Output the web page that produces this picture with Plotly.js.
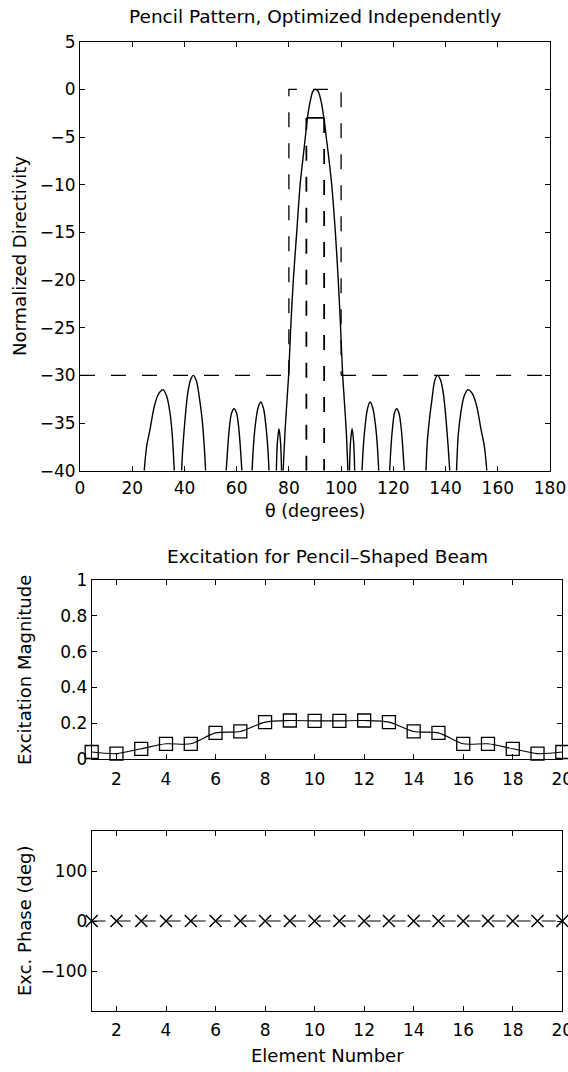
<!DOCTYPE html>
<html>
<head>
<meta charset="utf-8">
<script src="https://cdn.plot.ly/plotly-3.0.1.min.js"></script>
<style>html,body{margin:0;padding:0;background:#fff;}#chart{width:568px;height:1072px;}</style>
</head>
<body>
<div id="chart"></div>
<script>
// ---- Top plot: normalized directivity pattern (dB) ----
const patternTheta = [
 24.6,25.5,26.8,28.5,30.2,31.8,33.2,34.5,35.4,36.1, null,
 38.9,39.4,40.2,41.2,42.3,43.4,44.6,45.8,46.8,47.6,48.1, null,
 56.0,56.6,57.2,58.0,59.0,60.0,60.8,61.4,62.0, null,
 65.9,66.4,67.1,68.1,69.2,70.3,71.2,71.9,72.4, null,
 75.2,75.6,76.2,76.8,77.2, null,
 77.8,78.5,79.3,79.9,80.7,81.7,83.0,84.3,85.5,86.3,87.1,88.2,89.2,90.2,91.2,92.3,93.4,94.3,95.2,96.4,97.8,98.9,99.8,100.6,101.2,102.0,102.6, null,
 103.2,103.6,104.2,104.8,105.2, null,
 108.0,108.5,109.2,110.1,111.1,112.2,113.2,113.9,114.4, null,
 118.6,119.1,119.7,120.4,121.3,122.2,123.0,123.6,124.2, null,
 132.5,133.0,133.8,134.8,135.8,136.9,138.1,139.2,140.2,141.0,141.6, null,
 144.2,144.8,145.8,147.1,148.6,150.2,151.9,153.6,154.9,155.8
];
const patternDb = [
 -40,-37.5,-35.7,-33.2,-31.9,-31.5,-32.2,-34,-36.5,-40, null,
 -40,-37.5,-34.7,-32,-30.5,-30,-30.6,-32.5,-34.7,-37.5,-40, null,
 -40,-37.5,-35.5,-34,-33.5,-34,-35.5,-37.5,-40, null,
 -40,-37.5,-35.3,-33.5,-32.8,-33.5,-35.3,-37.5,-40, null,
 -40,-37,-35.6,-37,-40, null,
 -40,-36,-32.5,-30,-25,-20,-15,-10,-7,-5,-3,-1.2,-0.2,0,-0.2,-1.2,-3,-5,-7,-10,-15,-20,-25,-30,-32.5,-36,-40, null,
 -40,-37,-35.6,-37,-40, null,
 -40,-37.5,-35.3,-33.5,-32.8,-33.5,-35.3,-37.5,-40, null,
 -40,-37.5,-35.5,-34,-33.5,-34,-35.5,-37.5,-40, null,
 -40,-37,-34.7,-32.5,-30.6,-30,-30.5,-32,-34.7,-37.5,-40, null,
 -40,-36.5,-34,-32.2,-31.5,-31.9,-33.2,-35.7,-37.5,-40
];
// Mask lines
const sideMaskX = [0, 80, null, 100, 180];
const sideMaskY = [-30, -30, null, -30, -30];
const upperMaskX = [80, 80, 100, 100];
const upperMaskY = [-30, 0, 0, -30];
const lowerMaskVX = [86.7, 86.7, null, 93.5, 93.5];
const lowerMaskVY = [-40, -3, null, -3, -40];
const lowerMaskHX = [86.7, 93.5];
const lowerMaskHY = [-3, -3];

// ---- Excitation ----
const elements = [1,2,3,4,5,6,7,8,9,10,11,12,13,14,15,16,17,18,19,20];
const magnitude = [0.039,0.030,0.057,0.085,0.085,0.146,0.154,0.206,0.215,0.213,
                   0.213,0.215,0.206,0.154,0.146,0.085,0.085,0.057,0.030,0.039];
const phaseDeg = [0,0,0,0,0,0,0,0,0,0,0,0,0,0,0,0,0,0,0,0];

// ---- Ticks ----
const thetaTicks = [0,20,40,60,80,100,120,140,160,180];
const dbTicks = [-40,-35,-30,-25,-20,-15,-10,-5,0,5];
const elemTicks = [2,4,6,8,10,12,14,16,18,20];
const magTicks = [0,0.2,0.4,0.6,0.8,1];
const magTickText = ['0','0.2','0.4','0.6','0.8','1'];
const phaseTicks = [-100,0,100];

const W = 568, H = 1072;
const FONT = 'DejaVu Sans';
const tickFont = {family: FONT, size: 17, color: '#000'};

function axisBase(extra) {
  return Object.assign({
    showline: true, linecolor: '#000', linewidth: 1, mirror: 'ticks',
    ticks: 'inside', ticklen: 5, tickwidth: 1, tickcolor: '#000',
    showgrid: false, zeroline: false, tickfont: tickFont, automargin: false,
    ticklabeloverflow: 'allow', fixedrange: true
  }, extra);
}

const black = '#000';
const dashStyle = '15px,16px';
const traces = [
  {x: patternTheta, y: patternDb, xaxis: 'x', yaxis: 'y', mode: 'lines',
   line: {color: black, width: 1.4, shape: 'spline', smoothing: 0.8}, connectgaps: false},
  {x: sideMaskX, y: sideMaskY, xaxis: 'x', yaxis: 'y', mode: 'lines',
   line: {color: black, width: 1.4, dash: dashStyle}, connectgaps: false},
  {x: upperMaskX, y: upperMaskY, xaxis: 'x', yaxis: 'y', mode: 'lines',
   line: {color: black, width: 1.3, dash: dashStyle}},
  {x: lowerMaskVX, y: lowerMaskVY, xaxis: 'x', yaxis: 'y', mode: 'lines',
   line: {color: black, width: 1.8, dash: dashStyle}, connectgaps: false},
  {x: lowerMaskHX, y: lowerMaskHY, xaxis: 'x', yaxis: 'y', mode: 'lines',
   line: {color: black, width: 1.8}},
  {x: elements, y: magnitude, xaxis: 'x2', yaxis: 'y2', mode: 'lines+markers',
   line: {color: black, width: 1.1, shape: 'spline', smoothing: 0.8},
   marker: {symbol: 'square-open', size: 13, color: black, line: {width: 1.3, color: black}},
   cliponaxis: false},
  {x: elements, y: phaseDeg, xaxis: 'x3', yaxis: 'y3', mode: 'lines+markers',
   line: {color: black, width: 1.1, dash: '14px,11px'},
   marker: {symbol: 'x-thin-open', size: 12, color: black, line: {width: 1.5, color: black}},
   cliponaxis: false}
];

const topDomX = [80/W, 550/W];
const lowDomX = [91.7/W, 562.3/W];
const layout = {
  width: W, height: H,
  margin: {l: 0, r: 0, t: 0, b: 0, pad: 0},
  paper_bgcolor: '#fff', plot_bgcolor: '#fff',
  showlegend: false,
  font: {family: FONT, color: '#000'},
  xaxis: axisBase({domain: topDomX, anchor: 'y', range: [0,180], tickvals: thetaTicks, ticklabelstandoff: 2}),
  yaxis: axisBase({domain: [1-470.7/H, 1-41.7/H], anchor: 'x', range: [-40,5], tickvals: dbTicks}),
  xaxis2: axisBase({domain: lowDomX, anchor: 'y2', range: [1,20], tickvals: elemTicks, ticklabelstandoff: 5}),
  yaxis2: axisBase({domain: [1-759/H, 1-580/H], anchor: 'x2', range: [0,1], tickvals: magTicks, ticktext: magTickText}),
  xaxis3: axisBase({domain: lowDomX, anchor: 'y3', range: [1,20], tickvals: elemTicks, ticklabelstandoff: 4}),
  yaxis3: axisBase({domain: [1-1011/H, 1-831/H], anchor: 'x3', range: [-180,180], tickvals: phaseTicks}),
  annotations: [
    {text: 'Pencil Pattern, Optimized Independently', xref: 'paper', yref: 'paper',
     x: 315/W, y: 1-17/H, xanchor: 'center', yanchor: 'middle', showarrow: false,
     font: {family: FONT, size: 18.5, color: black}},
    {text: 'θ (degrees)', xref: 'paper', yref: 'paper',
     x: 315/W, y: 1-511/H, xanchor: 'center', yanchor: 'middle', showarrow: false,
     font: {family: FONT, size: 17.5, color: black}},
    {text: 'Normalized Directivity', xref: 'paper', yref: 'paper', textangle: -90,
     x: 19/W, y: 1-256/H, xanchor: 'center', yanchor: 'middle', showarrow: false,
     font: {family: FONT, size: 18, color: black}},
    {text: 'Excitation for Pencil–Shaped Beam', xref: 'paper', yref: 'paper',
     x: 327/W, y: 1-556/H, xanchor: 'center', yanchor: 'middle', showarrow: false,
     font: {family: FONT, size: 18.5, color: black}},
    {text: 'Excitation Magnitude', xref: 'paper', yref: 'paper', textangle: -90,
     x: 24/W, y: 1-670/H, xanchor: 'center', yanchor: 'middle', showarrow: false,
     font: {family: FONT, size: 18, color: black}},
    {text: 'Exc. Phase (deg)', xref: 'paper', yref: 'paper', textangle: -90,
     x: 24/W, y: 1-921/H, xanchor: 'center', yanchor: 'middle', showarrow: false,
     font: {family: FONT, size: 18, color: black}},
    {text: 'Element Number', xref: 'paper', yref: 'paper',
     x: 327/W, y: 1-1055/H, xanchor: 'center', yanchor: 'middle', showarrow: false,
     font: {family: FONT, size: 18, color: black}}
  ]
};

Plotly.newPlot('chart', traces, layout, {staticPlot: true, displayModeBar: false});
</script>
</body>
</html>
